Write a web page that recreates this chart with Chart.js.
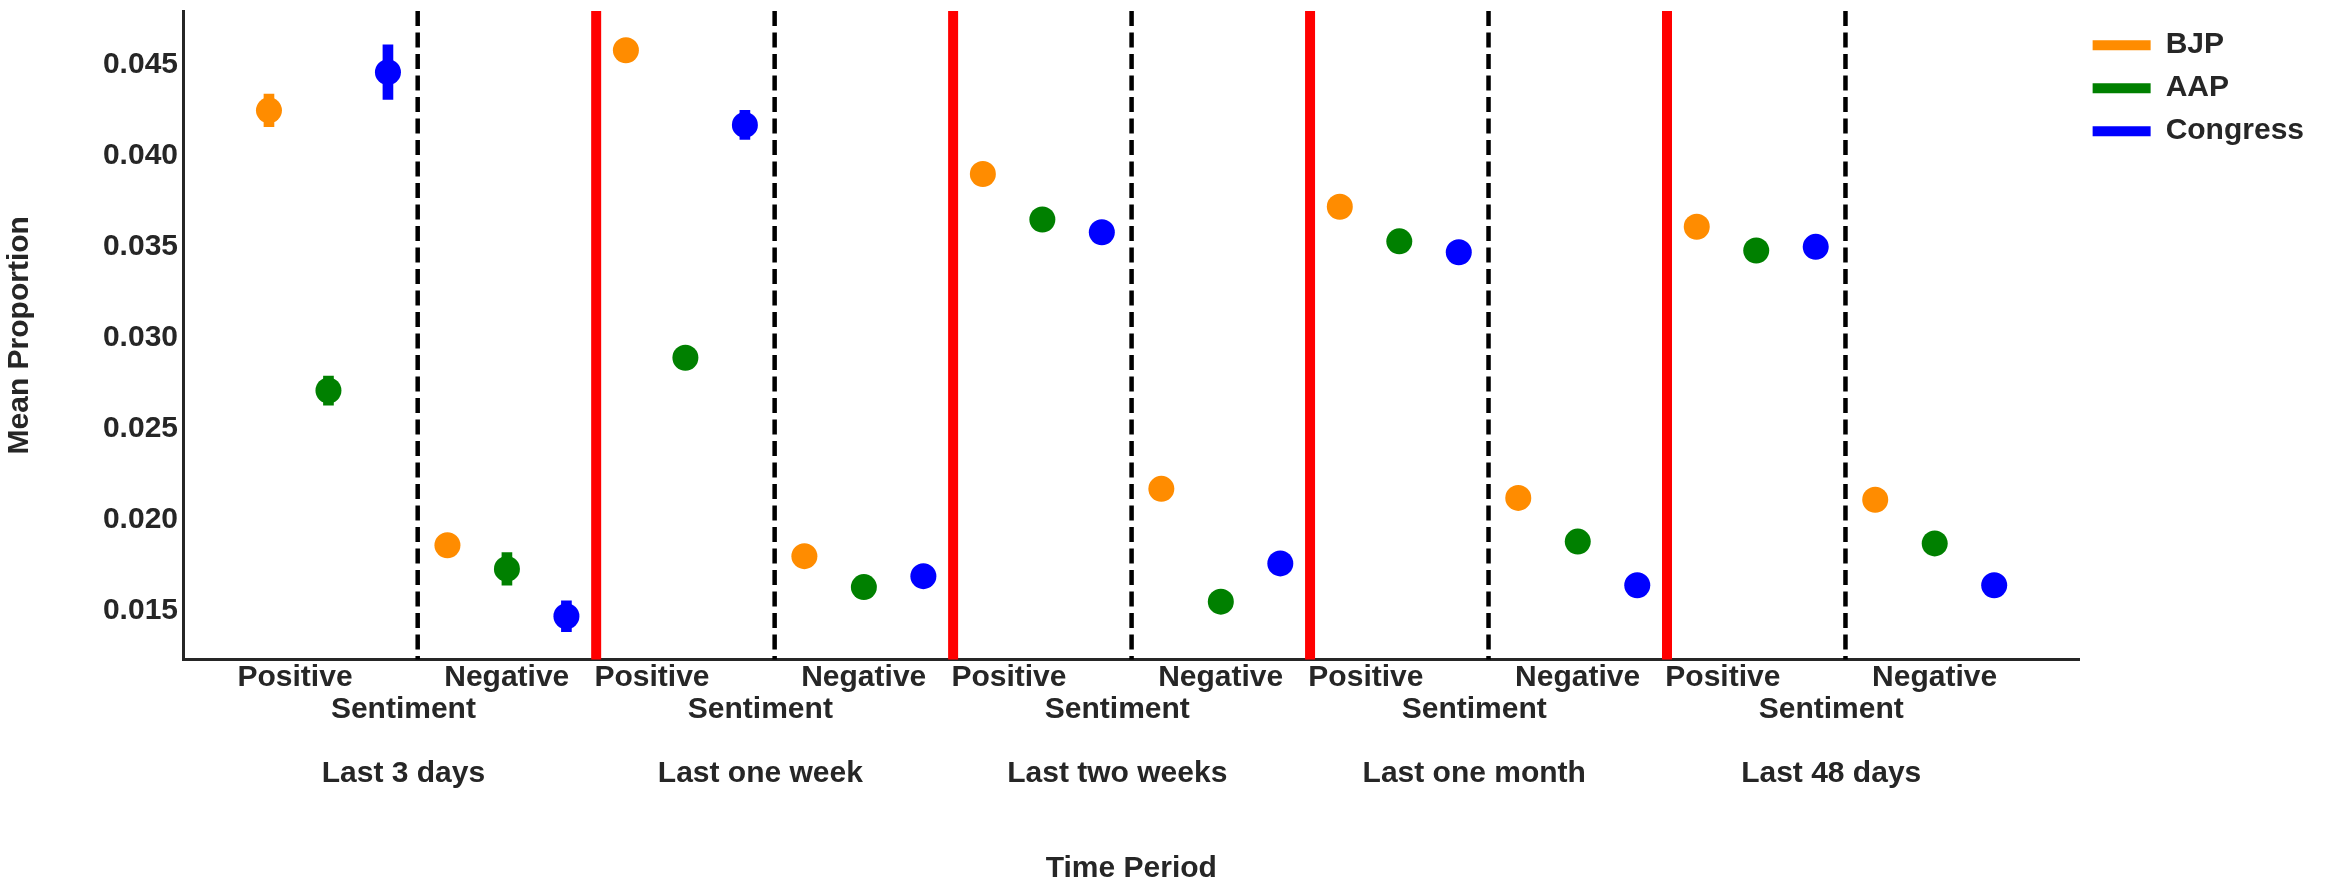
<!DOCTYPE html>
<html>
<head>
<meta charset="utf-8">
<script src="https://cdn.jsdelivr.net/npm/chart.js@4.4.0/dist/chart.umd.min.js"></script>
<style>
  html, body { margin: 0; padding: 0; background: #ffffff; }
  #wrap { width: 2328px; height: 892px; position: relative; }
</style>
</head>
<body>
<div id="wrap"><canvas id="myChart"></canvas></div>
<script>
// values
const periods = ['Last 3 days', 'Last one week', 'Last two weeks', 'Last one month', 'Last 48 days'];
const sentiments = ['Positive', 'Negative'];
const parties = ['BJP', 'AAP', 'Congress'];
const partyColors = ['#ff8c00', '#008000', '#0000ff'];

// order: period 1 positive, period 1 negative, period 2 positive, ...
const bjpMeans = [0.0425, 0.0186, 0.0458, 0.0180, 0.0390, 0.0217, 0.0372, 0.0212, 0.0361, 0.0211];
const aapMeans = [0.0271, 0.0173, 0.0289, 0.0163, 0.0365, 0.0155, 0.0353, 0.0188, 0.0348, 0.0187];
const congressMeans = [0.0446, 0.0147, 0.0417, 0.0169, 0.0358, 0.0176, 0.0347, 0.0164, 0.0350, 0.0164];

const bjpErr = [0.0009, 0.0004, 0.0004, 0.0003, 0.0003, 0.0003, 0.0003, 0.0003, 0.0002, 0.0003];
const aapErr = [0.0008, 0.0009, 0.0004, 0.0003, 0.0003, 0.0002, 0.0002, 0.0003, 0.0002, 0.0003];
const congressErr = [0.0015, 0.00085, 0.0008, 0.0004, 0.0003, 0.0003, 0.0003, 0.0003, 0.0002, 0.0003];

const yTicks = [0.015, 0.020, 0.025, 0.030, 0.035, 0.040, 0.045];

const means = [bjpMeans, aapMeans, congressMeans];
const errs = [bjpErr, aapErr, congressErr];
const dodge = [-1 / 3, 0, 1 / 3];
const textColor = '#262626';
const labelShift = -0.08;

Chart.defaults.font.family = "'Liberation Sans', Arial, sans-serif";

const pointSets = parties.map((p, k) => ({
    type: 'scatter',
    label: p,
    data: means[k].map((v, i) => ({x: i + dodge[k], y: v})),
    backgroundColor: partyColors[k],
    borderWidth: 0,
    pointRadius: 13,
    pointHoverRadius: 13,
    order: 1
}));

const errSets = parties.map((p, k) => ({
    type: 'bar',
    label: p + ' error',
    data: means[k].map((v, i) => ({x: i + dodge[k], y: [v - errs[k][i], v + errs[k][i]]})),
    backgroundColor: partyColors[k],
    borderWidth: 0,
    barThickness: 10,
    grouped: false,
    order: 2
}));

// dashed line between sentiments, red line between periods
const separators = {
    id: 'separators',
    beforeDatasetsDraw(chart) {
        const {ctx, chartArea, scales: {x}} = chart;
        ctx.save();
        for (let i = 0; i < periods.length * sentiments.length - 1; i++) {
            const px = x.getPixelForValue(i + 0.5);
            ctx.beginPath();
            if (i % 2 === 0) {
                ctx.strokeStyle = '#000000';
                ctx.lineWidth = 4.5;
                ctx.setLineDash([15, 6.5]);
            } else {
                ctx.strokeStyle = '#ff0000';
                ctx.lineWidth = 10;
                ctx.setLineDash([]);
            }
            ctx.moveTo(px, chartArea.top);
            ctx.lineTo(px, chartArea.bottom);
            ctx.stroke();
        }
        ctx.restore();
    }
};

const bold = {size: 30, weight: 'bold', lineHeight: 1.07};

new Chart(document.getElementById('myChart'), {
    type: 'scatter',
    data: {datasets: pointSets.concat(errSets)},
    options: {
        responsive: true,
        maintainAspectRatio: false,
        animation: false,
        events: [],
        layout: {autoPadding: false, padding: {top: 4, right: 14, bottom: 0, left: 0}},
        plugins: {
            tooltip: {enabled: false},
            legend: {
                position: 'right',
                align: 'start',
                title: {display: true, text: '', font: {size: 1}, padding: {top: 0, bottom: 12}},
                labels: {
                    boxWidth: 58,
                    boxHeight: 10,
                    padding: 13,
                    color: textColor,
                    font: {size: 30, weight: 'bold'},
                    generateLabels: () => parties.map((p, k) => ({
                        text: p,
                        fillStyle: partyColors[k],
                        strokeStyle: partyColors[k],
                        lineWidth: 0,
                        fontColor: textColor,
                        datasetIndex: k
                    }))
                }
            }
        },
        scales: {
            x: {
                type: 'linear',
                min: -0.815,
                max: 9.812,
                offset: false,
                grid: {display: false, drawTicks: false},
                border: {display: true, color: textColor, width: 3},
                afterBuildTicks: (scale) => {
                    scale.ticks = periods.map((p, k) => ({value: 2 * k + 0.5 + labelShift}));
                },
                ticks: {
                    autoSkip: false,
                    maxRotation: 0,
                    minRotation: 0,
                    padding: 2,
                    color: textColor,
                    font: bold,
                    callback: (v, i) => [sentiments.join(' '.repeat(11)), 'Sentiment', '', periods[i]]
                },
                title: {
                    display: true,
                    text: 'Time Period',
                    color: textColor,
                    font: bold,
                    padding: {top: 61, bottom: 7}
                }
            },
            y: {
                min: 0.01232,
                max: 0.04796,
                grid: {display: false, drawTicks: false},
                border: {display: true, color: textColor, width: 3},
                afterBuildTicks: (scale) => {
                    scale.ticks = yTicks.map(v => ({value: v}));
                },
                afterFit: (scale) => { scale.width = 183; },
                ticks: {
                    padding: 5,
                    color: textColor,
                    font: {size: 30, weight: 'bold', lineHeight: 0.4},
                    callback: (v) => v.toFixed(3)
                },
                title: {
                    display: true,
                    text: 'Mean Proportion',
                    color: textColor,
                    font: bold,
                    padding: {top: 4, bottom: 0}
                }
            }
        }
    },
    plugins: [separators]
});
</script>
</body>
</html>
